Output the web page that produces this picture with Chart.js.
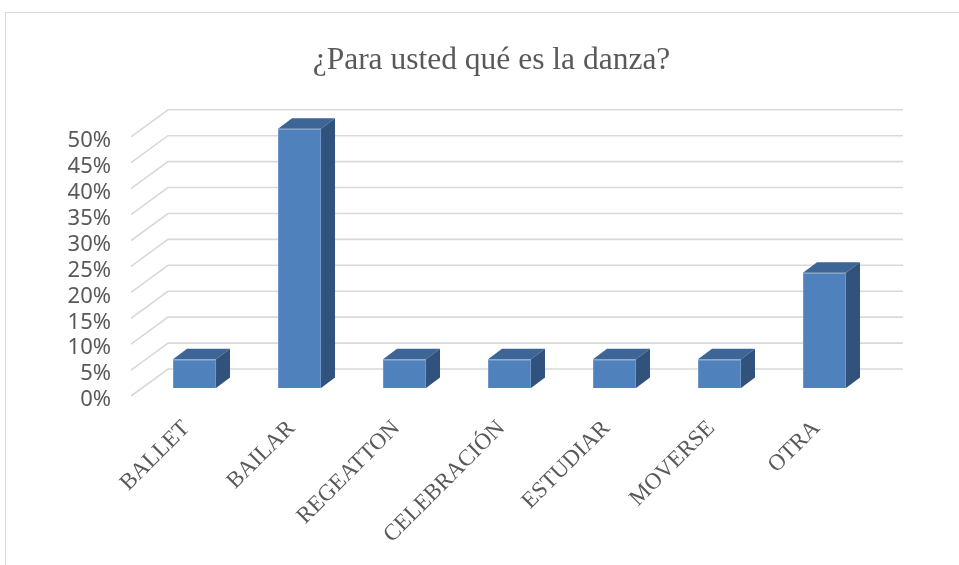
<!DOCTYPE html>
<html>
<head>
<meta charset="utf-8">
<script src="https://cdn.jsdelivr.net/npm/chart.js@4/dist/chart.umd.min.js"></script>
<style>
    html, body { margin: 0; padding: 0; background: #fff; overflow: hidden; }
    #frame { position: absolute; left: 5px; top: 12px; width: 1000px; height: 600px;
             border-left: 1px solid #d9d9d9; border-top: 1px solid #d9d9d9; }
    #wrap { position: absolute; left: 0; top: 0; width: 959px; height: 565px; }
</style>
</head>
<body>
<div id="frame"></div>
<div id="wrap"><canvas id="chart"></canvas></div>
<script>
// survey answers, 18 people -> percentages
const categories = ['BALLET', 'BAILAR', 'REGEATTON', 'CELEBRACIÓN', 'ESTUDIAR', 'MOVERSE', 'OTRA'];
const percentages = [5.56, 50, 5.56, 5.56, 5.56, 5.56, 22.22];
const yTicks = [0, 5, 10, 15, 20, 25, 30, 35, 40, 45, 50];

// fake 3D depth, in pixels
const wallFront = { dx: -11, dy: 8 };
const wallBack = { dx: 26, dy: -19 };
const barDepth = { dx: 14, dy: -10.5 };

const gridPlugin = {
    id: 'wall3d',
    beforeDatasetsDraw(chart) {
        const { ctx, chartArea, scales } = chart;
        ctx.save();
        ctx.strokeStyle = '#d9d9d9';
        ctx.lineWidth = 1.6;
        yTicks.forEach(v => {
            const y = scales.y.getPixelForValue(v);
            ctx.beginPath();
            ctx.moveTo(chartArea.left + wallFront.dx, y + wallFront.dy);
            ctx.lineTo(chartArea.left + wallBack.dx, y + wallBack.dy);
            ctx.lineTo(chartArea.right + wallBack.dx, y + wallBack.dy);
            ctx.stroke();
        });
        ctx.restore();
    },
    afterDatasetsDraw(chart) {
        const { ctx } = chart;
        const meta = chart.getDatasetMeta(0);
        ctx.save();
        meta.data.forEach(bar => {
            const { x, y, base, width } = bar.getProps(['x', 'y', 'base', 'width'], true);
            const l = x - width / 2, r = x + width / 2;
            // top face
            ctx.fillStyle = '#3d6697';
            ctx.beginPath();
            ctx.moveTo(l, y);
            ctx.lineTo(l + barDepth.dx, y + barDepth.dy);
            ctx.lineTo(r + barDepth.dx, y + barDepth.dy);
            ctx.lineTo(r, y);
            ctx.closePath();
            ctx.fill();
            // side face
            ctx.fillStyle = '#31527c';
            ctx.beginPath();
            ctx.moveTo(r, y);
            ctx.lineTo(r + barDepth.dx, y + barDepth.dy);
            ctx.lineTo(r + barDepth.dx, base + barDepth.dy);
            ctx.lineTo(r, base);
            ctx.closePath();
            ctx.fill();
        });
        ctx.restore();
    }
};

new Chart(document.getElementById('chart'), {
    type: 'bar',
    data: {
        labels: categories,
        datasets: [{
            data: percentages,
            backgroundColor: '#4f81bd',
            borderColor: '#7097c8',
            borderWidth: 1,
            categoryPercentage: 1,
            barPercentage: 0.41
        }]
    },
    options: {
        responsive: true,
        maintainAspectRatio: false,
        animation: false,
        layout: { padding: { left: 30, right: 6, top: 0, bottom: 0 } },
        plugins: {
            legend: { display: false },
            tooltip: { enabled: false },
            title: {
                display: true,
                text: '¿Para usted qué es la danza?',
                color: '#595959',
                font: { family: '"Liberation Serif", "Times New Roman", serif', size: 31.5, weight: 'normal' },
                padding: { top: 42, bottom: 49 }
            }
        },
        scales: {
            x: {
                grid: { display: false, drawTicks: false },
                border: { display: false },
                ticks: {
                    color: '#595959',
                    font: { family: '"Liberation Serif", "Times New Roman", serif', size: 23 },
                    maxRotation: 45,
                    minRotation: 45,
                    autoSkip: false,
                    padding: 27,
                    labelOffset: -8
                },
                afterFit(scale) { scale.height = 177; }
            },
            y: {
                min: 0,
                max: 50,
                grid: { display: false, drawTicks: false },
                border: { display: false },
                ticks: {
                    stepSize: 5,
                    autoSkip: false,
                    color: '#595959',
                    font: { family: '"Noto Sans", sans-serif', size: 22 },
                    padding: 31,
                    labelOffset: 12,
                    callback: v => v + '%'
                },
                afterFit(scale) { scale.width = 112; }
            },
            // empty axis on the right, only keeps the plot narrower than the frame
            yRight: {
                position: 'right',
                grid: { display: false, drawTicks: false },
                border: { display: false },
                ticks: { display: false },
                afterFit(scale) { scale.width = 76; }
            }
        }
    },
    plugins: [gridPlugin]
});
</script>
</body>
</html>
